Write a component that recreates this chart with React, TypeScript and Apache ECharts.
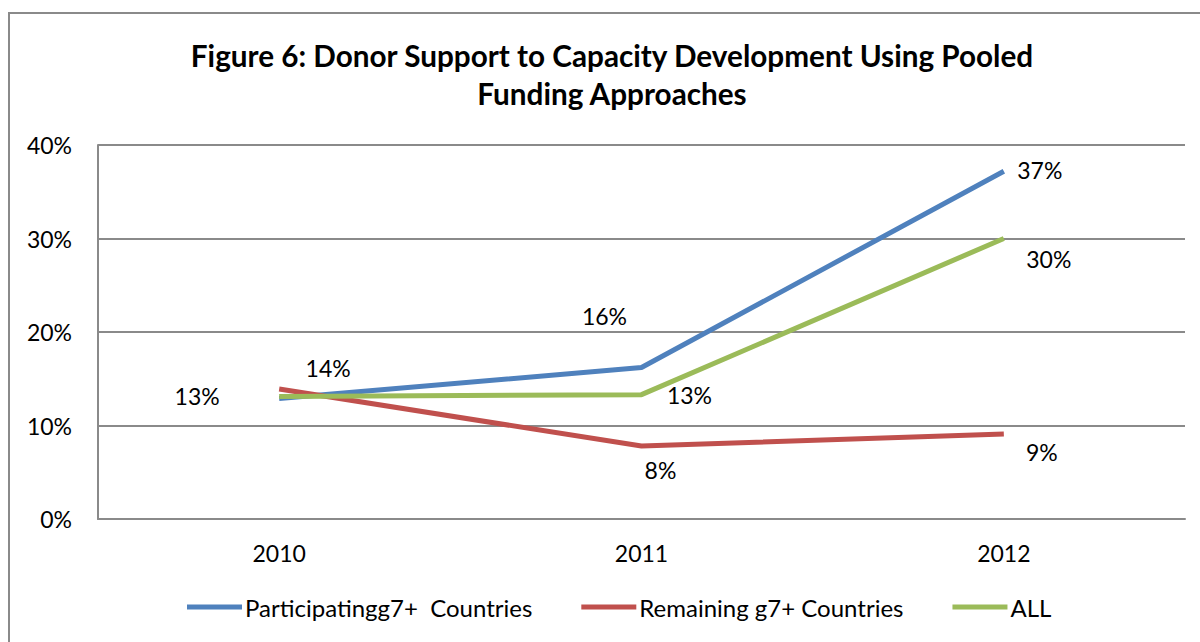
import React, { useEffect, useRef } from "react";
import * as echarts from "echarts";

const categories = ["2010", "2011", "2012"];
const participating = [0.129, 0.162, 0.372];
const remaining = [0.139, 0.078, 0.091];
const allCountries = [0.131, 0.133, 0.3];
const yTicks = [0, 0.1, 0.2, 0.3, 0.4];

const seriesNames = ["Participatingg7+  Countries", "Remaining g7+ Countries", "ALL"];
const titleLines = ["Figure 6: Donor Support to Capacity Development Using Pooled", "Funding Approaches"];

const FONT = "Lato, 'Open Sans', sans-serif";

const fmt = (v: number) => Math.round(v * 100) + "%";

// label offsets per point [dx, dy] relative to the point, null hides
const blueLabelOffsets: ([number, number] | null)[] = [[-82, -2], [-37, -52], [36, -1]];
const redLabelOffsets: ([number, number] | null)[] = [[49, -21], [19, 24], [38, 18]];
const greenLabelOffsets: ([number, number] | null)[] = [null, [48, 0], [45, 20]];

function makeData(values: number[], offsets: ([number, number] | null)[]) {
  return values.map((v, i) => {
    const o = offsets[i];
    return {
      value: v,
      label: o
        ? { show: true, position: "inside", offset: o, formatter: () => fmt(v) }
        : { show: false },
    };
  });
}

export default function App() {
  const ref = useRef<HTMLDivElement>(null);
  useEffect(() => {
    if (!ref.current) return;
    const chart = echarts.init(ref.current, undefined, { renderer: "svg" });
    const labelStyle = { color: "#000", fontSize: 23, fontFamily: FONT };
    const mkSeries = (name: string, values: number[], color: string, offsets: ([number, number] | null)[]) => ({
      name,
      type: "line",
      data: makeData(values, offsets),
      symbol: "circle",
      symbolSize: 0,
      showSymbol: true,
      lineStyle: { color, width: 5 },
      itemStyle: { color },
      label: { ...labelStyle },
      emphasis: { disabled: true },
    });
    chart.setOption({
      animation: false,
      backgroundColor: "#fff",
      graphic: [
        {
          type: "rect",
          shape: { x: 9, y: 13, width: 1250, height: 700 },
          style: { fill: "none", stroke: "#8a8a8a", lineWidth: 2 },
          silent: true,
        },
        {
          type: "text",
          x: 612,
          y: 55,
          style: {
            text: titleLines[0],
            fontSize: 29.7,
            fontWeight: "bold",
            fontFamily: FONT,
            fill: "#000",
            textAlign: "center",
            textVerticalAlign: "middle",
          },
        },
        {
          type: "text",
          x: 612,
          y: 93,
          style: {
            text: titleLines[1],
            fontSize: 29.7,
            fontWeight: "bold",
            fontFamily: FONT,
            fill: "#000",
            textAlign: "center",
            textVerticalAlign: "middle",
          },
        },
      ],
      grid: { left: 98, right: 15, top: 145, bottom: 123, containLabel: false },
      legend: {
        top: 590,
        left: 182,
        itemWidth: 55,
        itemHeight: 5,
        itemGap: 49,
        icon: "rect",
        textStyle: { color: "#000", fontSize: 24, fontFamily: FONT, padding: [0, 0, 0, -2] },
        data: seriesNames,
      },
      xAxis: {
        type: "category",
        data: categories,
        boundaryGap: true,
        axisLine: { show: true, lineStyle: { color: "#8a8a8a", width: 2 } },
        axisTick: { show: false },
        axisLabel: { color: "#000", fontSize: 23, fontFamily: FONT, margin: 22 },
      },
      yAxis: {
        type: "value",
        min: yTicks[0],
        max: yTicks[yTicks.length - 1],
        interval: 0.1,
        axisLine: { show: true, lineStyle: { color: "#8a8a8a", width: 2 } },
        axisTick: { show: false },
        splitLine: { show: true, lineStyle: { color: "#8a8a8a", width: 2 } },
        axisLabel: { color: "#000", fontSize: 23, fontFamily: FONT, margin: 26, formatter: (v: number) => fmt(v) },
      },
      series: [
        mkSeries(seriesNames[0], participating, "#4F81BD", blueLabelOffsets),
        mkSeries(seriesNames[1], remaining, "#C0504D", redLabelOffsets),
        mkSeries(seriesNames[2], allCountries, "#9BBB59", greenLabelOffsets),
      ],
    });
    return () => chart.dispose();
  }, []);
  return (
    <div
      ref={ref}
      style={{ position: "fixed", left: 0, top: 0, width: 1200, height: 642, background: "#fff" }}
    />
  );
}
